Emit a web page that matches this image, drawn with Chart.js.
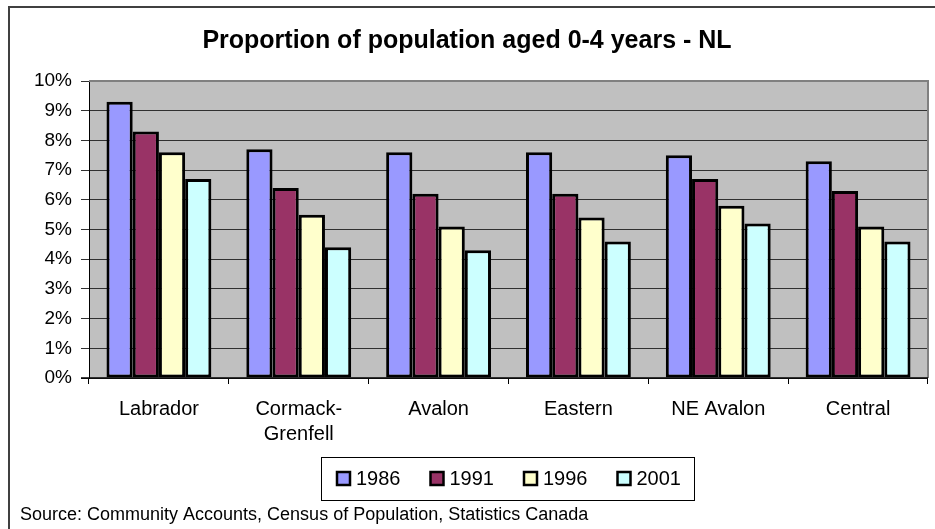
<!DOCTYPE html>
<html>
<head>
<meta charset="utf-8">
<script src="https://cdn.jsdelivr.net/npm/chart.js@4/dist/chart.umd.min.js"></script>
<style>
  html, body { margin: 0; padding: 0; background: #fff; }
  canvas { display: block; }
</style>
</head>
<body>
<canvas id="chart" width="935" height="529"></canvas>
<script>
// data
const categories = ['Labrador', ['Cormack-', 'Grenfell'], 'Avalon', 'Eastern', 'NE Avalon', 'Central'];
const years = ['1986', '1991', '1996', '2001'];
const values1986 = [9.3, 7.7, 7.6, 7.6, 7.5, 7.3];
const values1991 = [8.3, 6.4, 6.2, 6.2, 6.7, 6.3];
const values1996 = [7.6, 5.5, 5.1, 5.4, 5.8, 5.1];
const values2001 = [6.7, 4.4, 4.3, 4.6, 5.2, 4.6];
const yTicks = [0, 1, 2, 3, 4, 5, 6, 7, 8, 9, 10];
const seriesColors = ['#9999FF', '#993366', '#FFFFCC', '#CCFFFF'];

const titleText = 'Proportion of population aged 0-4 years - NL';
const sourceText = 'Source: Community Accounts, Census of Population, Statistics Canada';

const FONT = 'Arial, "Liberation Sans", sans-serif';
Chart.defaults.font.family = FONT;
Chart.defaults.color = '#000';

// background, frame, plot area fill, title, legend, source
const excelLook = {
  id: 'excelLook',
  beforeDraw(chart) {
    const ctx = chart.ctx;
    const a = chart.chartArea;
    ctx.save();
    ctx.fillStyle = '#fff';
    ctx.fillRect(0, 0, chart.width, chart.height);
    // outer frame (left + top only visible)
    ctx.strokeStyle = '#404040';
    ctx.lineWidth = 2;
    ctx.beginPath();
    ctx.moveTo(9, chart.height);
    ctx.lineTo(9, 7);
    ctx.lineTo(chart.width, 7);
    ctx.stroke();
    // plot area
    ctx.fillStyle = '#C0C0C0';
    ctx.fillRect(a.left, a.top, a.right - a.left, a.bottom - a.top);
    ctx.restore();
  },
  afterDatasetsDraw(chart) {
    const ctx = chart.ctx;
    const a = chart.chartArea;
    ctx.save();
    ctx.strokeStyle = '#808080';
    ctx.lineWidth = 2;
    ctx.beginPath();
    ctx.moveTo(a.left, a.top);
    ctx.lineTo(a.right, a.top);
    ctx.lineTo(a.right, a.bottom);
    ctx.stroke();
    ctx.strokeStyle = '#000';
    ctx.lineWidth = 1.5;
    ctx.beginPath();
    ctx.moveTo(a.left - 8, a.bottom);
    ctx.lineTo(a.right, a.bottom);
    ctx.stroke();
    ctx.restore();
  },
  afterDraw(chart) {
    const ctx = chart.ctx;
    ctx.save();
    // title
    ctx.fillStyle = '#000';
    ctx.font = 'bold 25px ' + FONT;
    ctx.textAlign = 'center';
    ctx.textBaseline = 'middle';
    ctx.fillText(titleText, 467, 41);

    // legend
    ctx.strokeStyle = '#000';
    ctx.lineWidth = 1;
    ctx.strokeRect(321.5, 457.5, 373, 43);
    ctx.font = '20px ' + FONT;
    ctx.textAlign = 'left';
    chart.data.datasets.forEach((ds, i) => {
      const x = 337 + i * 93.5;
      ctx.fillStyle = ds.backgroundColor;
      ctx.fillRect(x, 472, 13, 13);
      ctx.lineWidth = 2.5;
      ctx.strokeRect(x, 472, 13, 13);
      ctx.fillStyle = '#000';
      ctx.fillText(ds.label, x + 19, 479);
    });

    // source
    ctx.font = '18px ' + FONT;
    ctx.fillText(sourceText, 20, 515);
    ctx.restore();
  }
};

const datasets = [values1986, values1991, values1996, values2001].map((vals, i) => ({
  label: years[i],
  data: vals,
  backgroundColor: seriesColors[i],
  borderColor: '#000',
  borderWidth: 3,
  borderSkipped: false,
  barPercentage: 1,
  categoryPercentage: 0.75
}));

new Chart(document.getElementById('chart'), {
  type: 'bar',
  data: { labels: categories, datasets: datasets },
  options: {
    responsive: false,
    animation: false,
    events: [],
    layout: { padding: { top: 81, right: 7, bottom: 0, left: 0 } },
    plugins: {
      legend: { display: false },
      title: { display: false },
      tooltip: { enabled: false }
    },
    scales: {
      x: {
        afterFit(scale) { scale.height = 151; },
        grid: {
          offset: true,
          drawOnChartArea: false,
          drawTicks: true,
          tickLength: 6,
          color: '#000'
        },
        border: { display: false },
        ticks: {
          font: { size: 20, lineHeight: 1.25 },
          padding: 13,
          maxRotation: 0,
          autoSkip: false
        }
      },
      y: {
        min: 0,
        max: 10,
        afterFit(scale) { scale.width = 89; },
        afterBuildTicks(scale) { scale.ticks = yTicks.map(v => ({ value: v })); },
        grid: {
          color: '#303030',
          lineWidth: 1,
          tickLength: 8
        },
        border: { display: true, color: '#000', width: 1 },
        ticks: {
          font: { size: 19 },
          padding: 9,
          callback: v => v + '%'
        }
      }
    }
  },
  plugins: [excelLook]
});
</script>
</body>
</html>
